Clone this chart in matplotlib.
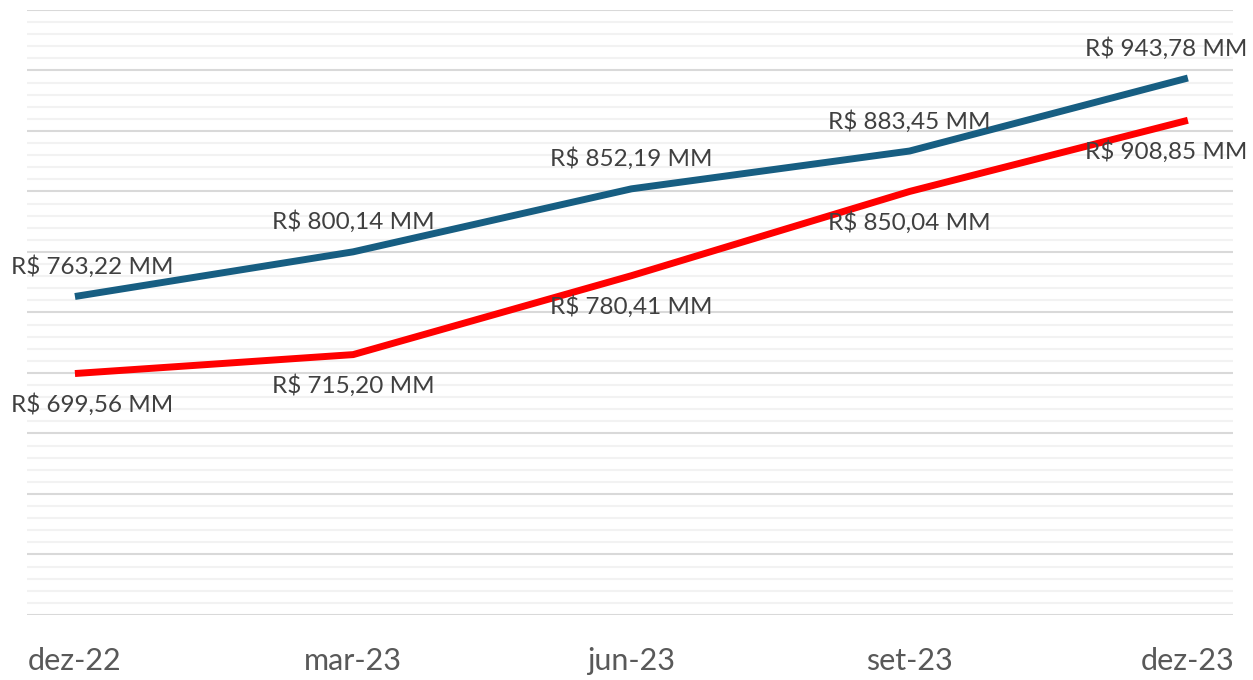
import matplotlib.pyplot as plt
from matplotlib.ticker import MultipleLocator

# Dados
meses = ['dez-22', 'mar-23', 'jun-23', 'set-23', 'dez-23']
serie_azul = [763.22, 800.14, 852.19, 883.45, 943.78]
serie_vermelha = [699.56, 715.20, 780.41, 850.04, 908.85]


def fmt(v):
    return 'R$ ' + f'{v:.2f}'.replace('.', ',') + ' MM'


plt.rcParams['font.family'] = ['Lato', 'DejaVu Sans']

fig = plt.figure(figsize=(12.53, 6.8), dpi=100)
ax = fig.add_axes([0.0215, 0.0956, 0.9625, 0.8897])

x = list(range(len(meses)))
ax.plot(x, serie_azul, color='#175E82', linewidth=5, solid_capstyle='butt', zorder=3)
ax.plot(x, serie_vermelha, color='#FF0000', linewidth=5, solid_capstyle='butt', zorder=3)

# deslocamento horizontal dos rótulos (pontas ajustadas para caber)
desloc = [17, 0, 0, 0, -22]
for i in x:
    ax.annotate(fmt(serie_azul[i]), (i, serie_azul[i]), xytext=(desloc[i], 30),
                textcoords='offset pixels', ha='center', va='center',
                fontsize=17.5, color='#404040', zorder=4)
    ax.annotate(fmt(serie_vermelha[i]), (i, serie_vermelha[i]), xytext=(desloc[i], -31),
                textcoords='offset pixels', ha='center', va='center',
                fontsize=17.5, color='#404040', zorder=4)

ax.set_xlim(-0.1725, 4.162)
ax.set_ylim(500, 1000)
ax.yaxis.set_major_locator(MultipleLocator(50))
ax.yaxis.set_minor_locator(MultipleLocator(10))
ax.grid(True, which='major', axis='y', color='#D9D9D9', linewidth=1.5)
ax.grid(True, which='minor', axis='y', color='#F2F2F2', linewidth=1.5)
ax.set_axisbelow(True)

ax.set_xticks(x)
ax.set_xticklabels(meses, fontsize=22, color='#595959')
ax.tick_params(axis='x', length=0, pad=23)
ax.tick_params(axis='y', which='both', left=False, labelleft=False)

for spine in ax.spines.values():
    spine.set_visible(False)

fig.savefig('out.png', dpi=100)
plt.close(fig)
